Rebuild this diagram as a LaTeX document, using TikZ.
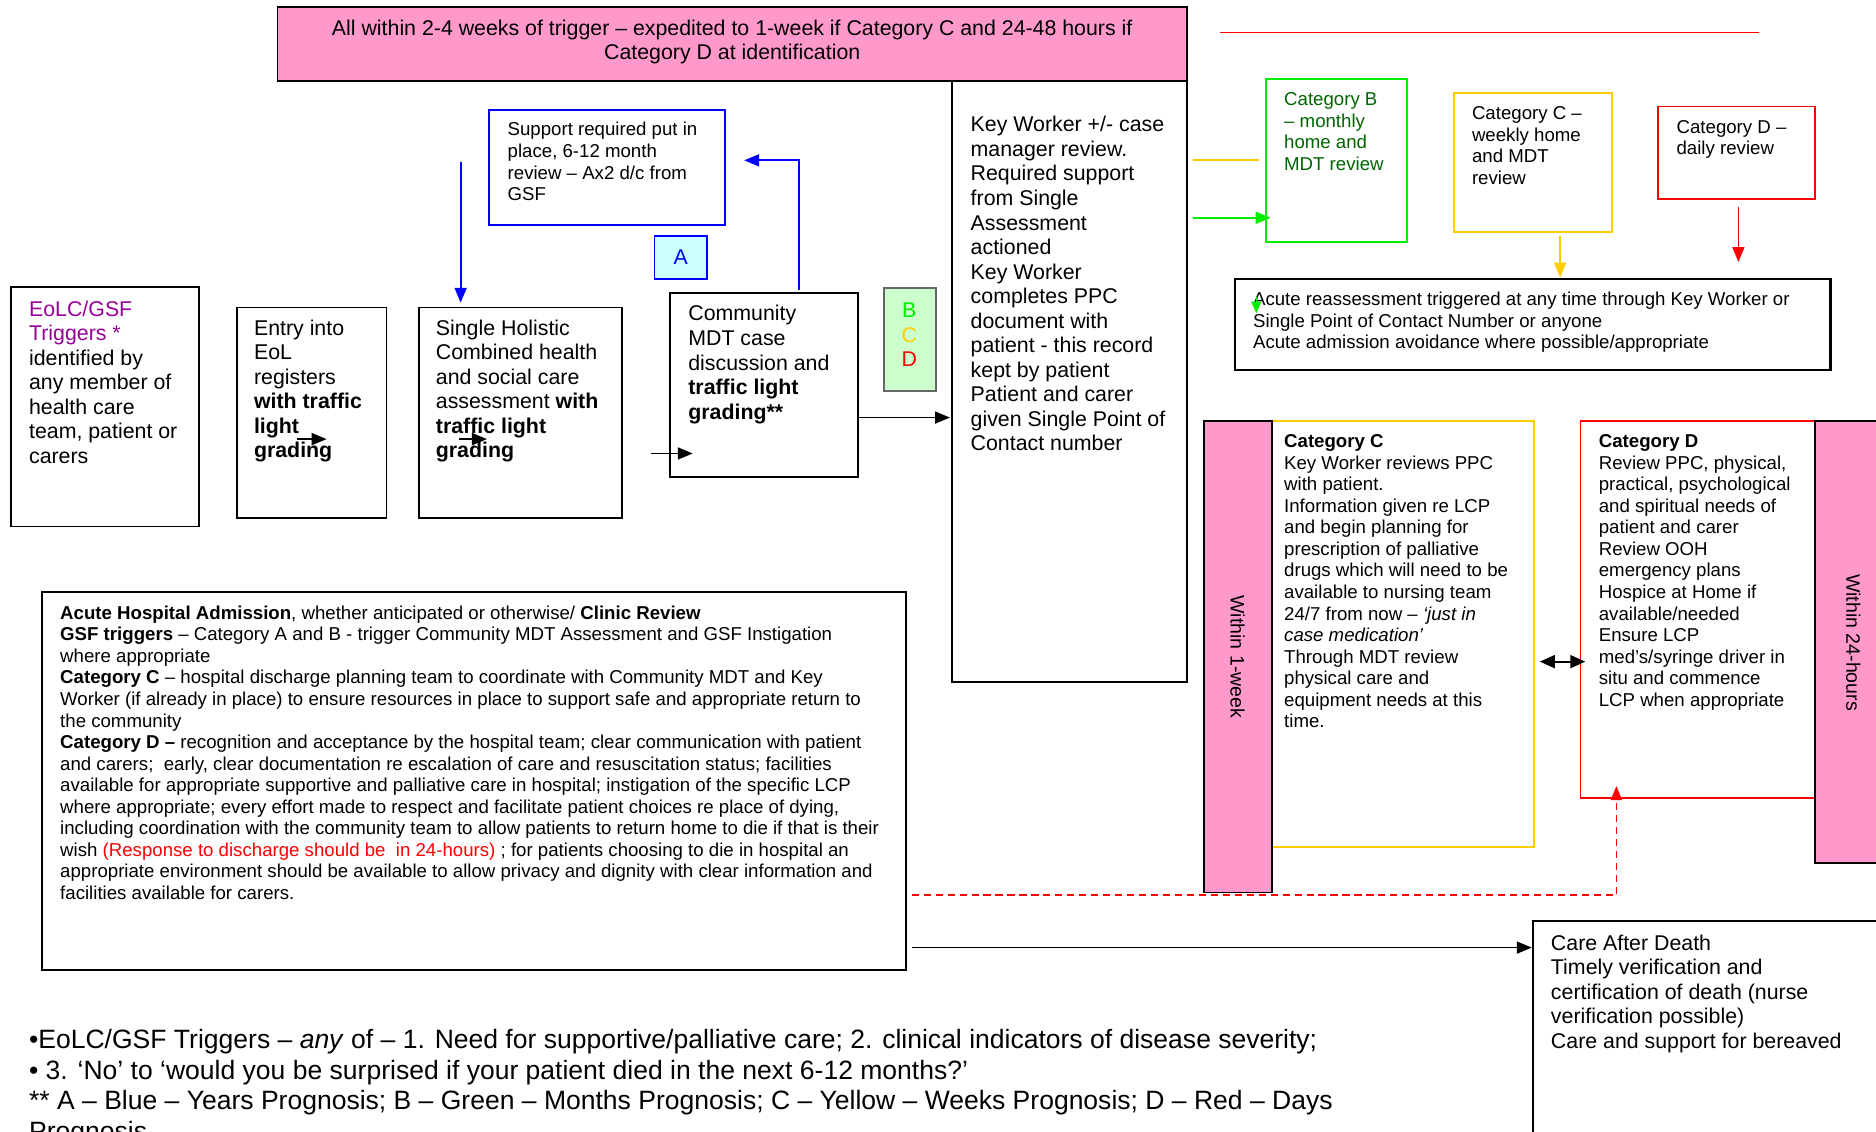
\documentclass[tikz,border=0pt]{standalone}
\usepackage{fontspec}
\setmainfont{Liberation Sans}
\usetikzlibrary{arrows.meta,fit,calc}
\definecolor{pinkf}{HTML}{FF99CC}
\definecolor{purp}{HTML}{990099}
\definecolor{bluel}{HTML}{0000FF}
\definecolor{cyanf}{HTML}{CCFFFF}
\definecolor{greenf}{HTML}{CCFFCC}
\definecolor{greenb}{HTML}{00EE00}
\definecolor{greend}{HTML}{006600}
\definecolor{yel}{HTML}{FFCC00}
\definecolor{redc}{HTML}{FF0000}
\tikzset{
  box/.style={draw, line width=0.9pt, inner sep=0pt},
  txt/.style={anchor=north west, inner sep=0pt, align=left, font=\fontsize{9.35}{10.8}\selectfont},
  bigtxt/.style={anchor=north west, inner sep=0pt, align=left, font=\fontsize{10.7}{12.3}\selectfont},
  arr/.style={line width=0.9pt, -{Triangle[length=7.5pt,width=6pt]}},
  darr/.style={line width=0.9pt, {Triangle[length=7.5pt,width=6.5pt]}-{Triangle[length=7.5pt,width=6.5pt]}},
}
\begin{document}
\begin{tikzpicture}[x=0.6pt,y=-0.6pt]
\useasboundingbox (0,0) rectangle (1568,946);
\clip (0,0) rectangle (1568,946);

% top banner
\node[box, fill=pinkf, fit={(232,6)(992,68)}] (top) {};
\node[align=center, inner sep=0pt, font=\fontsize{10.7}{12.2}\selectfont] (toptxt) at (612,35)
  {All within 2-4 weeks of trigger – expedited to 1-week if Category C and 24-48 hours if\\Category D at identification};
\coordinate (redA) at (1020,27);
\coordinate (redB) at (1470,27);
\draw[redc, line width=0.7pt] (redA) -- (redB);

% key worker box
\node[box, fit={(796,68)(992,570)}] (kw) {};
\node[bigtxt] (kwtxt) at (811,97) {Key Worker +/- case\\manager review.\\Required support\\from Single\\Assessment\\actioned\\Key Worker\\completes PPC\\document with\\patient - this record\\kept by patient\\Patient and carer\\given Single Point of\\Contact number};

% left flow boxes
\node[box, fit={(9,240)(166,440)}] (trig) {};
\node[bigtxt] (trigtxt) at (24,251) {\textcolor{purp}{EoLC/GSF}\\\textcolor{purp}{Triggers *}\\identified by\\any member of\\health care\\team, patient or\\carers};

\node[box, fit={(198,257)(323,433)}] (entry) {};
\node[bigtxt] (entrytxt) at (212,267) {Entry into\\EoL\\registers\\\textbf{with traffic}\\\textbf{light}\\\textbf{grading}};

\node[box, fit={(350,257)(520,433)}] (shol) {};
\node[bigtxt] (sholtxt) at (364,267) {Single Holistic\\Combined health\\and social care\\assessment \textbf{with}\\\textbf{traffic light}\\\textbf{grading}};

\node[box, fit={(560,245)(717,399)}] (comm) {};
\node[bigtxt] (commtxt) at (575,255) {Community\\MDT case\\discussion and\\\textbf{traffic light}\\\textbf{grading**}};

% blue support box
\node[box, draw=bluel, fit={(409,92)(606,188)}] (sup) {};
\node[txt] (suptxt) at (424,102) {Support required put in\\place, 6-12 month\\review – Ax2 d/c from\\GSF};
\node[box, draw=bluel, fill=cyanf, fit={(547,197)(591,233)}] (abox) {};
\node[font=\fontsize{10.7}{12}\selectfont, text=bluel] at (abox.center) {A};

% BCD box
\node[box, draw=black!60, fill=greenf, fit={(739,241)(782,327)}] (bcd) {};
\node[align=center, inner sep=0pt, font=\fontsize{10.7}{12.3}\selectfont] at (760,280)
  {\textcolor{greenb}{B}\\\textcolor{yel}{C}\\\textcolor{redc}{D}};

% small arrows in flow
\coordinate (a1s) at (248,367); \coordinate (a1e) at (273,367);
\coordinate (a2s) at (384,367); \coordinate (a2e) at (407,367);
\coordinate (a3s) at (544,379); \coordinate (a3e) at (579,379);
\draw[arr] (a1s) -- (a1e);
\draw[arr] (a2s) -- (a2e);
\draw[arr] (a3s) -- (a3e);
\coordinate (a4s) at (comm.east |- 0,349);
\coordinate (a4e) at (794,349);
\draw[arr] (a4s) -- (a4e);

% blue arrows
\coordinate (b1s) at (385,135);
\coordinate (b1e) at (385,253);
\draw[arr, bluel] (b1s) -- (b1e);
\coordinate (b2s) at (668,242);
\coordinate (b2e) at (622,134);
\draw[arr, bluel] (b2s) |- (b2e);

% right-hand category boxes
\coordinate (ylA) at (997,134); \coordinate (ylB) at (1052,134);
\draw[yel, line width=0.9pt] (ylA) -- (ylB);
\coordinate (gA) at (997,182); \coordinate (gB) at (1062,182);
\draw[arr, greenb] (gA) -- (gB);

\node[box, draw=greenb, fit={(1058,66)(1176,202)}] (catb) {};
\node[txt, text=greend] (catbtxt) at (1073,77) {Category B\\– monthly\\home and\\MDT review};

\node[box, draw=yel, fit={(1215,78)(1347,194)}] (catc) {};
\node[txt] (catctxt) at (1230,89) {Category C –\\weekly home\\and MDT\\review};

\node[box, draw=redc, fit={(1386,89)(1517,166)}] (catd) {};
\node[txt] (catdtxt) at (1401,100) {Category D –\\daily review};

\node[box, line width=1.2pt, fit={(1032,233)(1530,309)}] (acute) {};
\node[txt] (acutetxt) at (1047,244) {Acute reassessment triggered at any time through Key Worker or\\Single Point of Contact Number or anyone\\Acute admission avoidance where possible/appropriate};

\coordinate (ya) at (1304,197);
\draw[arr, yel] (ya) -- (ya |- acute.north);
\coordinate (ra) at (1453,173); \coordinate (rb) at (1453,219);
\draw[arr, redc] (ra) -- (rb);
\coordinate (gs1) at (1050,248); \coordinate (gs2) at (1050,262);
\draw[greenb, line width=0.6pt, -{Triangle[length=6pt,width=5pt]}] (gs1) -- (gs2);

% Category C / D detail boxes
\node[box, draw=yel, fit={(1063,352)(1282,708)}] (cc) {};
\node[txt] (cctxt) at (1073,363) {\textbf{Category C}\\Key Worker reviews PPC\\with patient.\\Information given re LCP\\and begin planning for\\prescription of palliative\\drugs which will need to be\\available to nursing team\\24/7 from now – \textit{‘just in}\\\textit{case medication’}\\Through MDT review\\physical care and\\equipment needs at this\\time.};

\node[box, draw=redc, fit={(1321,352)(1517,667)}] (cd) {};
\node[txt] (cdtxt) at (1336,363) {\textbf{Category D}\\Review PPC, physical,\\practical, psychological\\and spiritual needs of\\patient and carer\\Review OOH\\emergency plans\\Hospice at Home if\\available/needed\\Ensure LCP\\med’s/syringe driver in\\situ and commence\\LCP when appropriate};

\node[box, fill=pinkf, fit={(1006,352)(1063,746)}] (w1) {};
\node[rotate=-90, inner sep=0pt, font=\fontsize{9.8}{11}\selectfont] at (w1.center) {Within 1-week};
\node[box, fill=pinkf, fit={(1517,352)(1600,721)}] (w24) {};
\node[rotate=-90, inner sep=0pt, font=\fontsize{9.8}{11}\selectfont] at (1549,537) {Within 24-hours};

\coordinate (dl) at (1287,553); \coordinate (dr) at (1325,553);
\draw[darr] (dl) -- (dr);

% hospital admission box
\node[box, fit={(35,495)(757,811)}] (hosp) {};
\node[txt] (hosptxt) at (50,506) {\textbf{Acute Hospital Admission}, whether anticipated or otherwise/ \textbf{Clinic Review}\\
\textbf{GSF triggers} – Category A and B - trigger Community MDT Assessment and GSF Instigation\\
where appropriate\\
\textbf{Category C} – hospital discharge planning team to coordinate with Community MDT and Key\\
Worker (if already in place) to ensure resources in place to support safe and appropriate return to\\
the community\\
\textbf{Category D –} recognition and acceptance by the hospital team; clear communication with patient\\
and carers;\ \ early, clear documentation re escalation of care and resuscitation status; facilities\\
available for appropriate supportive and palliative care in hospital; instigation of the specific LCP\\
where appropriate; every effort made to respect and facilitate patient choices re place of dying,\\
including coordination with the community team to allow patients to return home to die if that is their\\
wish \textcolor{redc}{(Response to discharge should be\ \ in 24-hours)} ; for patients choosing to die in hospital an\\
appropriate environment should be available to allow privacy and dignity with clear information and\\
facilities available for carers.};

% care after death
\node[box, fit={(1281,770)(1600,990)}] (cad) {};
\node[bigtxt] (cadtxt) at (1296,781) {Care After Death\\Timely verification and\\certification of death (nurse\\verification possible)\\Care and support for bereaved};

\coordinate (hd) at (762,748);
\coordinate (hdend) at (1351,657);
\draw[redc, line width=0.8pt, dash pattern=on 3.6pt off 2.4pt, -{Triangle[length=7pt,width=5.5pt]}] (hd) -| (hdend);
\coordinate (hc) at (762,792);
\draw[arr] (hc) -- (cad.west |- hc);

% notes
\node[anchor=north west, inner sep=0pt, align=left, font=\fontsize{13.3}{15.4}\selectfont] (notes) at (24,860)
{•EoLC/GSF Triggers – \textit{any} of – 1. Need for supportive/palliative care; 2. clinical indicators of disease severity;\\
• 3. ‘No’ to ‘would you be surprised if your patient died in the next 6-12 months?’\\
** A – Blue – Years Prognosis; B – Green – Months Prognosis; C – Yellow – Weeks Prognosis; D – Red – Days\\
Prognosis};
\end{tikzpicture}
\end{document}
